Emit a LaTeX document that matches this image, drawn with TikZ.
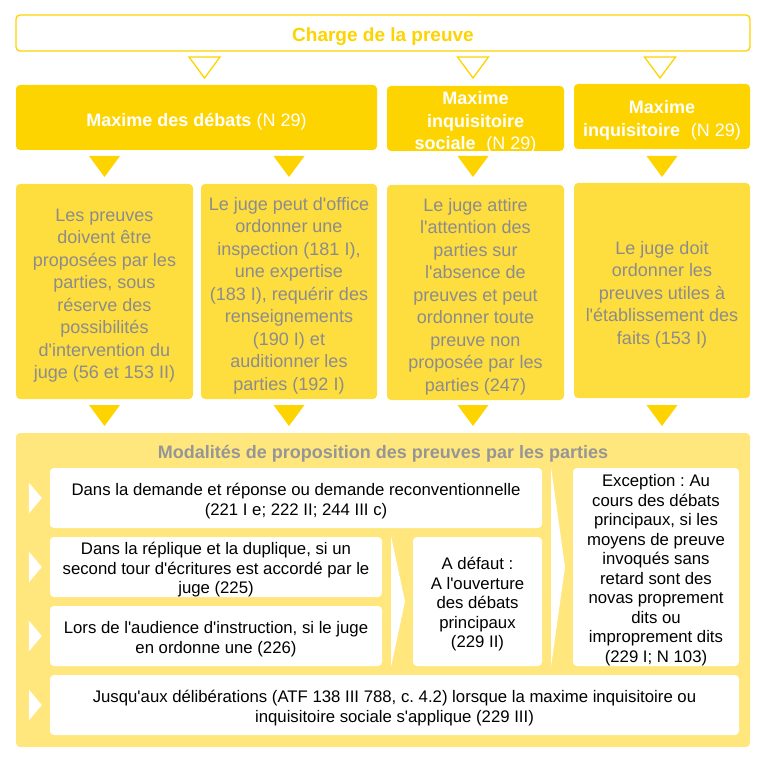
\documentclass[tikz,border=0pt]{standalone}
\usepackage{fontspec}
\setmainfont{Liberation Sans}
\newcommand{\sq}{\textquotesingle}
\begin{document}
\frenchspacing
\definecolor{hdr}{RGB}{253,212,0}
\definecolor{cnt}{RGB}{254,221,62}
\definecolor{panel}{RGB}{255,230,125}
\definecolor{graytxt}{RGB}{140,140,140}
\definecolor{titlegray}{RGB}{150,150,150}
\begin{tikzpicture}[x=1pt,y=-1pt,
  box/.style={rectangle,rounded corners=4pt,inner sep=0pt},
  txt/.style={inner sep=0pt,align=center},
  headtxt/.style={txt,text=white,font=\fontsize{18}{22.5}\selectfont,yshift=-4pt},
  infotxt/.style={txt,text=graytxt,font=\fontsize{18}{22.5}\selectfont,yshift=-4pt},
  bodytxt/.style={txt,text=black,font=\fontsize{16.75}{19.5}\selectfont,yshift=-3pt},
  headbox/.style={box,fill=hdr},
  infobox/.style={box,fill=cnt},
  whitebox/.style={box,fill=white},
  pics/downtri/.style={code={\fill[hdr] (-15.5,0) -- (15.5,0) -- (0,21) -- cycle;}},
  pics/hollowtri/.style={code={\draw[hdr,line width=1.3pt,line join=miter] (-15.5,0) -- (15.5,0) -- (0,21) -- cycle;}}
]
\useasboundingbox (0,0) rectangle (765,762);

% top box
\node[box,draw=hdr,line width=1.3pt,fill=white,minimum width=734pt,minimum height=36pt,
  label={[txt,text=hdr,font=\fontsize{19}{22}\selectfont\bfseries,yshift=-4pt]center:Charge de la preuve}]
  (charge) at (383,33) {};

% the three principles
\node[headbox,minimum width=361pt,minimum height=65pt,
  label={[headtxt]center:{\textbf{Maxime des débats} (N 29)}}] (h1) at (196.5,117.5) {};
\node[headbox,minimum width=177pt,minimum height=65pt,
  label={[headtxt]center:{\textbf{Maxime}\\\textbf{inquisitoire}\\\textbf{sociale}\hspace{0.6em}(N 29)}}] (h2) at (475.5,118.5) {};
\node[headbox,minimum width=176pt,minimum height=65pt,
  label={[headtxt]center:{\textbf{Maxime}\\\textbf{inquisitoire}\hspace{0.6em}(N 29)}}] (h3) at (662,116.5) {};

% hollow arrows below the top box
\pic at (204.5,57) {hollowtri};
\pic at (473,57) {hollowtri};
\pic at (660,57) {hollowtri};

% descriptions
\node[infobox,minimum width=177pt,minimum height=215pt,
  label={[infotxt]center:{Les preuves\\doivent être\\proposées par les\\parties, sous\\réserve des\\possibilités\\d\sq intervention du\\juge (56 et 153 II)}}] (cA) at (104.5,291.5) {};
\node[infobox,minimum width=176pt,minimum height=215pt,
  label={[infotxt]center:{Le juge peut d\sq office\\ordonner une\\inspection (181 I),\\une expertise\\(183 I), requérir des\\renseignements\\(190 I) et\\auditionner les\\parties (192 I)}}] (cB) at (289,291.5) {};
\node[infobox,minimum width=177pt,minimum height=215pt,
  label={[infotxt]center:{Le juge attire\\l\sq attention des\\parties sur\\l\sq absence de\\preuves et peut\\ordonner toute\\preuve non\\proposée par les\\parties (247)}}] (cC) at (475.5,292.5) {};
\node[infobox,minimum width=176pt,minimum height=215pt,
  label={[infotxt]center:{Le juge doit\\ordonner les\\preuves utiles à\\l\sq établissement des\\faits (153 I)}}] (cD) at (662,290.5) {};

% filled arrows
\foreach \cx in {104.5,289,473,662} {
  \pic at (\cx,156) {downtri};
  \pic at (\cx,405) {downtri};
}

% panel of the modalities
\node[box,fill=panel,minimum width=734pt,minimum height=314pt] (panel) at (383,590) {};
\node[text=titlegray,font=\fontsize{18}{22}\selectfont\bfseries,inner sep=0pt] (title) at (383,454)
  {Modalités de proposition des preuves par les parties};

\node[whitebox,minimum width=492pt,minimum height=60pt,
  label={[bodytxt]center:{Dans la demande et réponse ou demande reconventionnelle\\(221 I e; 222 II; 244 III c)}}] (r1) at (296,498) {};
\node[whitebox,minimum width=332pt,minimum height=60pt,
  label={[bodytxt]center:{Dans la réplique et la duplique, si un\\second tour d\sq écritures est accordé par le\\juge (225)}}] (r2) at (216,567) {};
\node[whitebox,minimum width=332pt,minimum height=60pt,
  label={[bodytxt]center:{Lors de l\sq audience d\sq instruction, si le juge\\en ordonne une (226)}}] (r3) at (216,636) {};
\node[whitebox,minimum width=689pt,minimum height=60pt,
  label={[bodytxt]center:{Jusqu\sq aux délibérations (ATF 138 III 788, c. 4.2) lorsque la maxime inquisitoire ou\\inquisitoire sociale s\sq applique (229 III)}}] (r4) at (394.5,705) {};
\node[whitebox,minimum width=129pt,minimum height=129pt,
  label={[bodytxt]center:{A défaut :\\A l\sq ouverture\\des débats\\principaux\\(229 II)}}] (def) at (477.5,601.5) {};
\node[whitebox,minimum width=166pt,minimum height=198pt,
  label={[bodytxt]center:{Exception : Au\\cours des débats\\principaux, si les\\moyens de preuve\\invoqués sans\\retard sont des\\novas proprement\\dits ou\\improprement dits\\(229 I; N 103)}}] (exc) at (656,567) {};

% small chevrons in front of each row
\foreach \n in {r1,r2,r3,r4} {
  \fill[white] ([xshift=-21pt,yshift=15.5pt]\n.west) -- ([xshift=-8pt]\n.west) -- ([xshift=-21pt,yshift=-15.5pt]\n.west) -- cycle;
}

% tall chevrons between the columns
\fill[white] (391,536) -- (405,601.5) -- (391,667) -- cycle;
\fill[white] (551,467) -- (565,567) -- (551,667) -- cycle;
\end{tikzpicture}
\end{document}
